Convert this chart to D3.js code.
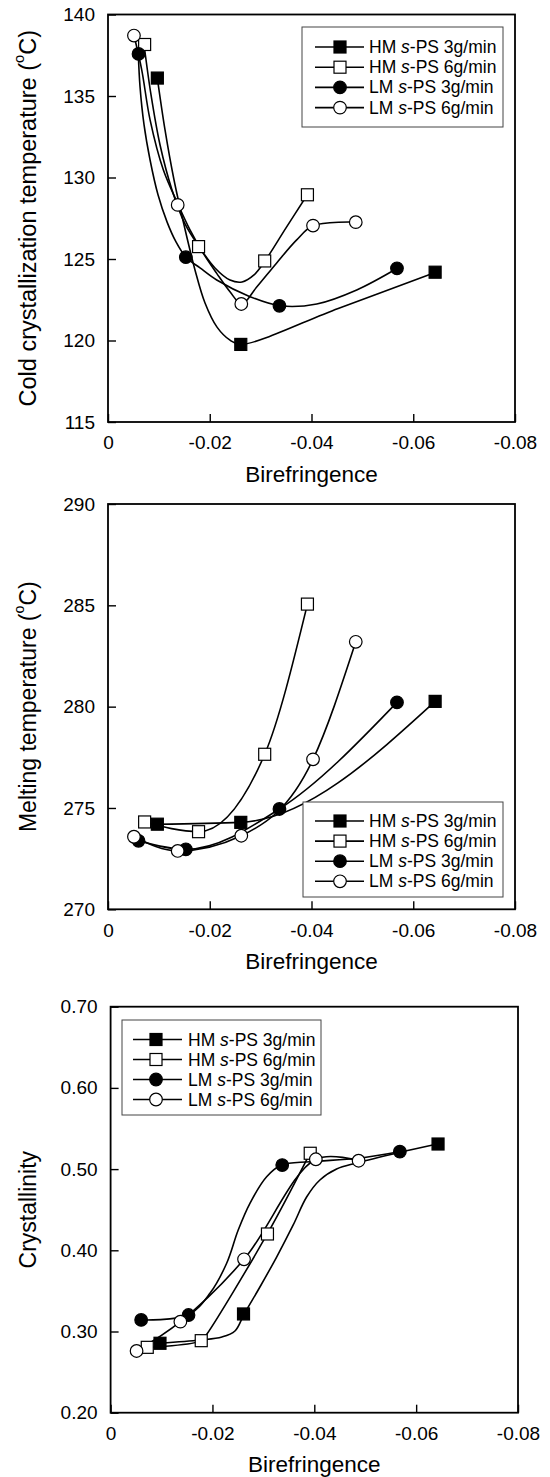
<!DOCTYPE html>
<html><head><meta charset="utf-8">
<script src="https://cdn.jsdelivr.net/npm/d3@7"></script>
<style>
body{margin:0;background:#fff}
svg{display:block}
text{font-family:"Liberation Sans",Arial,Helvetica,sans-serif;fill:#000}
</style>
</head><body>
<svg id="c" width="550" height="1477"></svg>
<script>
// ---------- shared categories ----------
const seriesMaterial = ["HM", "HM", "LM", "LM"];
const seriesRate = ["3g/min", "6g/min", "3g/min", "6g/min"];
const seriesShape = ["square", "square", "circle", "circle"];
const seriesFilled = [true, false, true, false];

// birefringence of each sample (x values)
const xHM3 = [-0.0097, -0.0261, -0.0643];
const xHM6 = [-0.0072, -0.0178, -0.0308, -0.0392];
const xLM3 = [-0.0060, -0.0153, -0.0337, -0.0568];
const xLM6 = [-0.0051, -0.0137, -0.0262, -0.0403, -0.0487];

const xTicks = [0, -0.02, -0.04, -0.06, -0.08];
const xTickLabels = ["0", "-0.02", "-0.04", "-0.06", "-0.08"];

// ---------- panel 1: cold crystallization temperature ----------
const ccHM3 = [136.1, 119.76, 124.19];
const ccHM6 = [138.16, 125.76, 124.88, 128.94];
const ccLM3 = [137.58, 125.11, 122.13, 124.43];
const ccLM6 = [138.71, 128.32, 122.24, 127.05, 127.26];
const ccTicks = [115, 120, 125, 130, 135, 140];
const ccTickLabels = ["115", "120", "125", "130", "135", "140"];
// spline lines
const ccHM3Fit = [[-0.00969,136.11],[-0.01120,132.93],[-0.01297,129.86],[-0.01494,127.09],[-0.01710,124.33],[-0.01907,122.30],[-0.02143,120.82],[-0.02398,120.02],[-0.02609,119.76],[-0.04525,121.97],[-0.06443,124.19]];
const ccHM6Fit = [[-0.00708,138.16],[-0.00845,135.08],[-0.01022,132.01],[-0.01258,129.24],[-0.01514,127.15],[-0.01789,125.76],[-0.02103,124.45],[-0.02398,123.71],[-0.02634,123.59],[-0.02870,124.02],[-0.03086,124.88],[-0.03499,126.91],[-0.03918,128.94]];
const ccLM3Fit = [[-0.00596,137.58],[-0.00629,135.59],[-0.00708,133.24],[-0.00826,131.09],[-0.00983,128.94],[-0.01160,127.28],[-0.01337,126.05],[-0.01533,125.11],[-0.01809,124.45],[-0.02137,123.71],[-0.02791,122.69],[-0.03381,122.13],[-0.04103,122.24],[-0.04889,123.10],[-0.05687,124.43]];
const ccLM6Fit = [[-0.00511,138.71],[-0.00662,136.62],[-0.00826,133.55],[-0.01087,130.47],[-0.01382,128.32],[-0.01612,126.79],[-0.01873,125.35],[-0.02137,124.12],[-0.02398,122.99],[-0.02628,122.24],[-0.02923,123.28],[-0.03316,124.76],[-0.03709,126.17],[-0.04036,127.05],[-0.04869,127.26]];

// ---------- panel 2: melting temperature ----------
const mtHM3 = [274.2, 274.29, 280.26];
const mtHM6 = [274.31, 273.83, 277.65, 285.06];
const mtLM3 = [273.38, 272.96, 274.95, 280.21];
const mtLM6 = [273.58, 272.88, 273.63, 277.40, 283.20];
const mtTicks = [270, 275, 280, 285, 290];
const mtTickLabels = ["270", "275", "280", "285", "290"];

// ---------- panel 3: crystallinity ----------
const crHM3 = [0.2855, 0.3216, 0.5309];
const crHM6 = [0.2805, 0.2887, 0.4201, 0.5195];
const crLM3 = [0.3142, 0.3203, 0.5050, 0.5214];
const crLM6 = [0.2760, 0.3121, 0.3889, 0.5121, 0.5103];
const crTicks = [0.2, 0.3, 0.4, 0.5, 0.6, 0.7];
const crTickLabels = ["0.20", "0.30", "0.40", "0.50", "0.60", "0.70"];
const crHM3Fit = [[-0.0097,0.2855],[-0.01755,0.2895],[-0.02186,0.2932],[-0.02442,0.3006],[-0.02624,0.3216],[-0.02932,0.3548],[-0.03260,0.3917],[-0.03586,0.4312],[-0.03849,0.4656],[-0.04110,0.4866],[-0.04438,0.5001],[-0.04830,0.5075],[-0.05666,0.5204],[-0.06416,0.5309]];
const crHM6Fit = [[-0.0074,0.2805],[-0.01788,0.2887],[-0.01892,0.2969],[-0.03076,0.4201],[-0.03914,0.5195]];
const crLM3Fit = [[-0.0061,0.3142],[-0.01525,0.3203],[-0.01951,0.3470],[-0.02279,0.3840],[-0.02506,0.4250],[-0.02736,0.4579],[-0.03064,0.4906],[-0.03358,0.5050],[-0.03914,0.5091],[-0.04862,0.5133],[-0.05666,0.5214]];

const xs = [xHM3, xHM6, xLM3, xLM6];
const zip = (a, b) => a.map((v, i) => [v, b[i]]);

const svg = d3.select("#c");
const FONT = '"Liberation Sans",Arial,Helvetica,sans-serif';

function drawPanel(cfg) {
  const x = d3.scaleLinear().domain([0, -0.08]).range([cfg.left, cfg.right]);
  const y = d3.scaleLinear().domain(cfg.yDomain).range([cfg.bottom, cfg.top]);
  const g = svg.append("g");

  // axes (ticks inward)
  const ax = g.append("g").attr("transform", `translate(0,${cfg.bottom})`)
    .call(d3.axisBottom(x).tickValues(xTicks).tickFormat((d, i) => xTickLabels[i])
      .tickSizeInner(-8).tickSizeOuter(0).tickPadding(14));
  const ay = g.append("g").attr("transform", `translate(${cfg.left},0)`)
    .call(d3.axisLeft(y).tickValues(cfg.yTicks).tickFormat((d, i) => cfg.yTickLabels[i])
      .tickSizeInner(-8).tickSizeOuter(0).tickPadding(13));
  [ax, ay].forEach(a => {
    a.select(".domain").remove();
    a.attr("font-family", FONT).attr("font-size", 19);
    a.selectAll("line").attr("stroke", "#000").attr("stroke-width", 1.4);
    a.selectAll("text").attr("fill", "#000");
  });

  // frame
  g.append("rect").attr("x", cfg.left).attr("y", cfg.top)
    .attr("width", cfg.right - cfg.left).attr("height", cfg.bottom - cfg.top)
    .attr("fill", "none").attr("stroke", "#000").attr("stroke-width", 1.8);

  // axis titles
  g.append("text").attr("x", (cfg.left + cfg.right) / 2).attr("y", cfg.bottom + 52)
    .attr("text-anchor", "middle").attr("dominant-baseline", "central")
    .attr("font-size", 22.5).text("Birefringence");
  const yt = g.append("text")
    .attr("transform", `translate(28,${(cfg.top + cfg.bottom) / 2}) rotate(-90)`)
    .attr("text-anchor", "middle").attr("dominant-baseline", "central")
    .attr("font-size", cfg.yTitleSize);
  yt.append("tspan").text(cfg.yTitle[0]);
  if (cfg.yTitle.length > 1) {
    yt.append("tspan").attr("font-size", cfg.yTitleSize * 0.62).attr("dy", -9).text("o");
    yt.append("tspan").attr("dy", 9).text(cfg.yTitle[1]);
  }

  // lines
  cfg.curves.forEach(c => {
    g.append("path").datum(c.pts)
      .attr("d", d3.line().x(d => x(d[0])).y(d => y(d[1])).curve(c.curve))
      .attr("fill", "none").attr("stroke", "#000").attr("stroke-width", 1.6);
  });

  // markers
  cfg.ys.forEach((ys, si) => {
    zip(xs[si], ys).forEach(p => drawMarker(g, x(p[0]), y(p[1]), si));
  });

  // legend
  const L = cfg.legend;
  g.append("rect").attr("x", L.x).attr("y", L.y).attr("width", L.w).attr("height", L.h)
    .attr("fill", "#fff").attr("stroke", "#444").attr("stroke-width", 1);
  seriesMaterial.forEach((m, i) => {
    const ry = L.row0 + i * L.step;
    g.append("line").attr("x1", L.lx1).attr("x2", L.lx2).attr("y1", ry).attr("y2", ry)
      .attr("stroke", "#000").attr("stroke-width", 1.6);
    drawMarker(g, L.mx, ry, i);
    const t = g.append("text").attr("x", L.tx).attr("y", ry).attr("dominant-baseline", "central")
      .attr("font-size", 17.5);
    t.append("tspan").text(m + " ");
    t.append("tspan").attr("font-style", "italic").text("s");
    t.append("tspan").text("-PS " + seriesRate[i]);
  });
}

function drawMarker(g, cx, cy, si) {
  const fill = seriesFilled[si] ? "#000" : "#fff";
  if (seriesShape[si] === "square") {
    g.append("rect").attr("x", cx - 6).attr("y", cy - 6).attr("width", 12).attr("height", 12)
      .attr("fill", fill).attr("stroke", "#000").attr("stroke-width", 1.2);
  } else {
    g.append("circle").attr("cx", cx).attr("cy", cy).attr("r", 6.3)
      .attr("fill", fill).attr("stroke", "#000").attr("stroke-width", 1.2);
  }
}

const cr = d3.curveCatmullRom.alpha(0.5);

drawPanel({
  left: 108, right: 515, top: 14.5, bottom: 422,
  yDomain: [115, 140], yTicks: ccTicks, yTickLabels: ccTickLabels,
  yTitle: ["Cold crystallization temperature (", "C)"], yTitleSize: 23.5,
  ys: [ccHM3, ccHM6, ccLM3, ccLM6],
  curves: [{pts: ccHM3Fit, curve: cr}, {pts: ccHM6Fit, curve: cr}, {pts: ccLM3Fit, curve: cr}, {pts: ccLM6Fit, curve: cr}],
  legend: {x: 302, y: 27, w: 201, h: 100, row0: 47, step: 20.2, lx1: 315, lx2: 364, mx: 340, tx: 369}
});

drawPanel({
  left: 108, right: 515, top: 504, bottom: 909.3,
  yDomain: [270, 290], yTicks: mtTicks, yTickLabels: mtTickLabels,
  yTitle: ["Melting temperature (", "C)"], yTitleSize: 23,
  ys: [mtHM3, mtHM6, mtLM3, mtLM6],
  curves: [0, 1, 2, 3].map(i => ({pts: zip(xs[i], [mtHM3, mtHM6, mtLM3, mtLM6][i]), curve: d3.curveMonotoneX})),
  legend: {x: 303, y: 802, w: 200, h: 95, row0: 821, step: 20.1, lx1: 315, lx2: 364, mx: 340, tx: 369}
});

drawPanel({
  left: 110.6, right: 518, top: 1006.7, bottom: 1412.7,
  yDomain: [0.2, 0.7], yTicks: crTicks, yTickLabels: crTickLabels,
  yTitle: ["Crystallinity"], yTitleSize: 23,
  ys: [crHM3, crHM6, crLM3, crLM6],
  curves: [{pts: crHM3Fit, curve: cr}, {pts: crHM6Fit, curve: cr}, {pts: crLM3Fit, curve: cr}, {pts: zip(xLM6, crLM6), curve: cr}],
  legend: {x: 122, y: 1020, w: 199, h: 95, row0: 1039.5, step: 20, lx1: 133, lx2: 182, mx: 156, tx: 188}
});
</script>
</body></html>
